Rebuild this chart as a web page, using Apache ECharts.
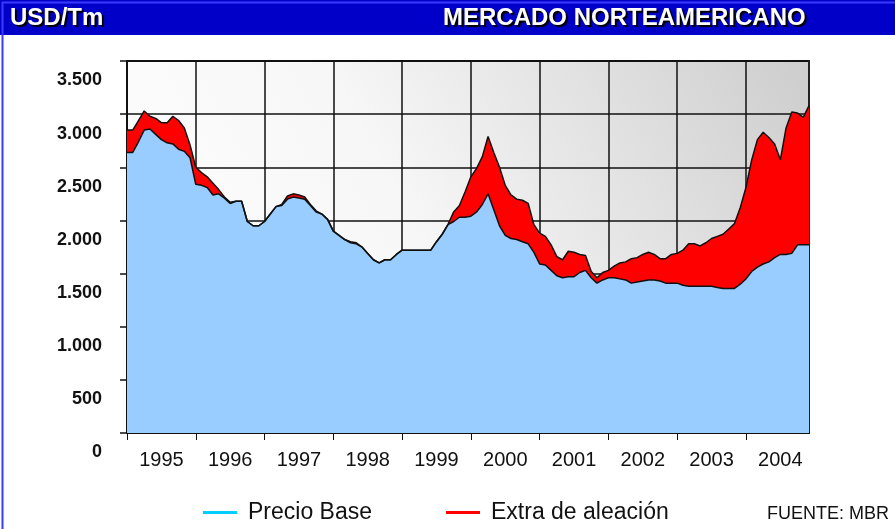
<!DOCTYPE html>
<html>
<head>
<meta charset="utf-8">
<title>Mercado norteamericano</title>
<script src="https://cdn.jsdelivr.net/npm/echarts@6/dist/echarts.min.js"></script>
<style>
  html, body { margin: 0; padding: 0; background: #fff; }
  #chart { width: 895px; height: 529px; }
</style>
</head>
<body>
<div id="chart"></div>
<script>
// años del eje x (datos mensuales ene-1995 .. dic-2004)
const years = [1995, 1996, 1997, 1998, 1999, 2000, 2001, 2002, 2003, 2004]
const months = []
years.forEach(y => { for (let m = 1; m <= 12; m++) months.push(y + '-' + m) })

// precio base USD/Tm
const precioBase = [
  2640, 2640, 2740, 2850, 2860, 2810, 2760, 2730, 2720, 2670, 2650, 2590,
  2340, 2330, 2310, 2240, 2250, 2210, 2160, 2180, 2180, 1990, 1950, 1950,
  1990, 2060, 2130, 2140, 2200, 2220, 2210, 2200, 2140, 2080, 2060, 2010,
  1900, 1860, 1820, 1790, 1780, 1750, 1690, 1630, 1600, 1630, 1630, 1680,
  1720, 1720, 1720, 1720, 1720, 1720, 1800, 1870, 1960, 1990, 2030, 2030,
  2040, 2080, 2150, 2250, 2100, 1950, 1860, 1830, 1820, 1800, 1780, 1700,
  1590, 1580, 1530, 1480, 1460, 1470, 1470, 1510, 1530, 1460, 1410, 1440,
  1460, 1460, 1450, 1440, 1410, 1420, 1430, 1440, 1440, 1430, 1410, 1410,
  1410, 1390, 1380, 1380, 1380, 1380, 1380, 1370, 1360, 1360, 1360, 1400,
  1450, 1520, 1560, 1590, 1610, 1650, 1680, 1680, 1690, 1770, 1770, 1770
]

// extra de aleación (sobre el precio base)
const extraAleacion = [
  210, 210, 200, 180, 120, 150, 160, 190, 260, 270, 220, 120,
  160, 120, 100, 110, 40, 10, 10, 0, 0, 0, 0, 0,
  0, 0, 0, 10, 30, 30, 30, 20, 10, 10, 0, 0,
  0, 0, 0, 10, 10, 0, 0, 0, 0, 0, 0, 0,
  0, 0, 0, 0, 0, 0, 0, 0, 0, 90, 110, 240,
  370, 410, 450, 540, 540, 550, 470, 410, 380, 390, 380, 260,
  290, 270, 240, 180, 170, 240, 230, 170, 140, 60, 50, 70,
  70, 110, 150, 170, 230, 230, 250, 260, 240, 210, 230, 270,
  280, 330, 400, 400, 380, 410, 450, 480, 510, 560, 610, 720,
  860, 1050, 1200, 1240, 1170, 1070, 890, 1190, 1330, 1240, 1200, 1310
]

const yTicks = [0, 500, 1000, 1500, 2000, 2500, 3000, 3500]

const chart = echarts.init(document.getElementById('chart'))

const fmtMiles = v => String(v).replace(/\B(?=(\d{3})+(?!\d))/g, '.')

const option = {
  animation: false,
  textStyle: { fontFamily: 'Liberation Sans, Arial, sans-serif' },
  grid: {
    left: 127, top: 61, right: 86, bottom: 96,
    show: true,
    borderColor: '#111',
    borderWidth: 2,
    backgroundColor: new echarts.graphic.LinearGradient(0, 1, 1, 0, [
      { offset: 0, color: '#ffffff' },
      { offset: 0.45, color: '#f7f7f7' },
      { offset: 1, color: '#cdcdcd' }
    ])
  },
  legend: {
    left: 198,
    top: 496,
    icon: 'rect',
    itemWidth: 34,
    itemHeight: 3,
    itemGap: 74,
    textStyle: { fontSize: 23, color: '#111', padding: [0, 0, 0, 6] },
    data: [
      { name: 'Precio Base', itemStyle: { color: '#00ccff' } },
      { name: 'Extra de aleación', itemStyle: { color: '#ff0000' } }
    ]
  },
  xAxis: {
    type: 'category',
    data: months,
    boundaryGap: false,
    axisLine: { lineStyle: { color: '#111', width: 2 } },
    axisTick: {
      length: 7,
      lineStyle: { color: '#111', width: 1 },
      interval: (i) => i % 12 === 0
    },
    axisLabel: {
      interval: (i) => i % 12 === 6,
      formatter: (v) => v.split('-')[0],
      fontSize: 20,
      color: '#111',
      margin: 17
    },
    splitLine: {
      show: true,
      interval: (i) => i % 12 === 0 && i > 0,
      lineStyle: { color: '#111', width: 1.5 }
    }
  },
  yAxis: [{
    type: 'value',
    min: yTicks[0],
    max: yTicks[yTicks.length - 1],
    interval: 500,
    axisLine: { show: true, lineStyle: { color: '#111', width: 2 } },
    axisTick: { show: true, length: 7, lineStyle: { color: '#111', width: 1.5 } },
    axisLabel: {
      formatter: fmtMiles,
      fontSize: 18,
      fontWeight: 'bold',
      color: '#111',
      margin: 25,
      verticalAlign: 'top',
      lineHeight: 39
    },
    splitLine: { lineStyle: { color: '#111', width: 1.5 } }
  }, {
    type: 'value',
    position: 'right',
    min: 0,
    max: 3500,
    axisLine: { show: true, lineStyle: { color: '#222', width: 2 } },
    axisTick: { show: false },
    axisLabel: { show: false },
    splitLine: { show: false }
  }],
  series: [{
    name: 'Precio Base',
    type: 'line',
    stack: 'total',
    data: precioBase,
    symbol: 'none',
    color: '#00ccff',
    lineStyle: { color: '#111', width: 1.5 },
    areaStyle: { color: '#99ccff', opacity: 1 }
  }, {
    name: 'Extra de aleación',
    type: 'line',
    stack: 'total',
    data: extraAleacion,
    symbol: 'none',
    color: '#ff0000',
    lineStyle: { color: '#111', width: 1.5 },
    areaStyle: { color: '#ff0000', opacity: 1 }
  }],
  graphic: [
    {
      type: 'rect', left: 0, top: 0, z: 10,
      shape: { width: 895, height: 35 },
      style: { fill: '#0000c8' }
    },
    {
      type: 'text', left: 10, top: 6, z: 11,
      style: {
        text: 'USD/Tm', fill: '#fff', font: 'bold 24px Liberation Sans, Arial, sans-serif',
        textShadowColor: '#000', textShadowOffsetX: 2, textShadowOffsetY: 2, textShadowBlur: 1
      }
    },
    {
      type: 'text', left: 443, top: 6, z: 11,
      style: {
        text: 'MERCADO NORTEAMERICANO', fill: '#fff', font: 'bold 24px Liberation Sans, Arial, sans-serif',
        textShadowColor: '#000', textShadowOffsetX: 2, textShadowOffsetY: 2, textShadowBlur: 1
      }
    },
    {
      type: 'text', right: 6, top: 505, z: 11,
      style: { text: 'FUENTE: MBR', fill: '#111', font: '18px Liberation Sans, Arial, sans-serif' }
    },
    {
      type: 'rect', left: 0, top: 0, z: 12,
      shape: { width: 894, height: 528 },
      style: { fill: 'none', stroke: '#3a3aff', lineWidth: 2 }
    }
  ]
}

chart.setOption(option)

window.addEventListener('resize', () => { chart && chart.resize() })
</script>
</body>
</html>
